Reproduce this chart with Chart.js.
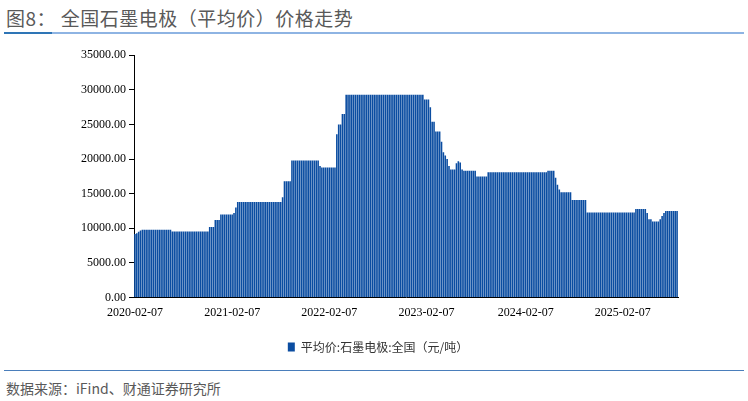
<!DOCTYPE html>
<html>
<head>
<meta charset="utf-8">
<script src="https://cdn.jsdelivr.net/npm/chart.js@4"></script>
<style>
body{margin:0;width:748px;height:401px;background:#fff;font-family:"Noto Sans CJK SC",sans-serif;position:relative;overflow:hidden}
#title{position:absolute;left:6px;top:4px;font-size:19px;color:#595959;letter-spacing:0.5px}
#tl{position:absolute;left:4px;top:32px;width:740px;height:2px;background:#8eb4e3}
#tl2{position:absolute;left:4px;top:32px;width:48px;height:2px;background:#2e75b6}
#fl{position:absolute;left:4px;top:370px;width:740px;height:1px;background:#4a7ebb}
#src{position:absolute;left:6px;top:378px;font-size:14px;color:#595959}
#wrap{position:absolute;left:0;top:45px;width:748px;height:318px}
</style>
</head>
<body>
<div id="title">图8：&nbsp;全国石墨电极（平均价）价格走势</div>
<div id="tl"></div><div id="tl2"></div>
<div id="wrap"><canvas id="myChart"></canvas></div>
<div id="fl"></div>
<div id="src">数据来源：iFind、财通证券研究所</div>
<script>
// weekly average price, yuan/ton
let prices = [
9200,9300,9500,9700,9800,9800,9800,9800,9800,9800,9800,9800,9800,9800,9800,9800,9800,9800,9800,9800,
9550,9550,9550,9550,9550,9550,9550,9550,9550,9550,9550,9550,9550,9550,9550,9550,9550,9550,9550,9550,
10200,10200,10200,11200,11200,11200,12000,12000,12000,12000,12000,12000,12000,12200,13000,
13800,13800,13800,13800,13800,13800,13800,13800,13800,13800,13800,13800,13800,13800,13800,13800,13800,13800,13800,13800,13800,13800,13800,13800,
14500,16800,16800,16800,16800,
19800,19800,19800,19800,19800,19800,19800,19800,19800,19800,19800,19800,19800,19800,19800,
19000,18800,18800,18800,18800,18800,18800,18800,18800,
23600,25000,25000,26500,26500,
29300,29300,29300,29300,29300,29300,29300,29300,29300,29300,29300,29300,29300,29300,29300,29300,29300,29300,29300,29300,29300,
29300,29300,29300,29300,29300,29300,29300,29300,29300,29300,29300,29300,29300,29300,29300,29300,29300,29300,29300,29300,29300,
28600,28600,28600,27500,25400,25400,24000,24000,24000,22500,21000,20500,20000,19000,18500,18500,18500,
19400,19700,19500,18500,18300,18300,18300,18300,18300,18300,18300,17500,17500,17500,17500,17500,17500,
18100,18100,18100,18100,18100,18100,18100,18100,18100,18100,18100,18100,18100,18100,18100,18100,
18100,18100,18100,18100,18100,18100,18100,18100,18100,18100,18100,18100,18100,18100,18100,18100,
18300,18300,18300,18300,17300,16300,15600,15200,15200,15200,15200,15200,15200,
14100,14100,14100,14100,14100,14100,14100,14100,
12300,12300,12300,12300,12300,12300,12300,12300,12300,12300,12300,12300,12300,
12300,12300,12300,12300,12300,12300,12300,12300,12300,12300,12300,12300,12300,
12800,12800,12800,12800,12800,12800,12200,11300,11300,11000,11000,11000,11000,11300,11800,12200,
12500,12500,12500,12500,12500,12500,12500
];
let tickLabels = ["2020-02-07","2021-02-07","2022-02-07","2023-02-07","2024-02-07","2025-02-07"];
let tickIdx = [0, 52, 104, 156, 209, 261];

let dates = [];
let d0 = new Date(Date.UTC(2020, 1, 7));
for (let i = 0; i < prices.length; i++) {
    let d = new Date(d0.getTime() + i * 7 * 86400000);
    dates.push(d.toISOString().slice(0, 10));
}

let ctx = document.getElementById("myChart").getContext('2d');
let myChart = new Chart(ctx, {
    type: 'bar',
    data: {
        labels: dates,
        datasets: [{
            label: '平均价:石墨电极:全国（元/吨）',
            data: prices,
            backgroundColor: '#0b4da1',
            borderColor: '#0b4da1',
            borderWidth: 0,
            categoryPercentage: 1.0,
            barPercentage: 0.85
        }]
    },
    options: {
        responsive: true,
        maintainAspectRatio: false,
        animation: false,
        layout: { padding: { left: 78, right: 70, top: 5, bottom: 0 } },
        plugins: {
            legend: {
                position: 'bottom',
                labels: { boxWidth: 7, boxHeight: 9, color: '#333', font: { size: 12, family: 'Noto Sans CJK SC' }, padding: 18 }
            },
            tooltip: { enabled: false }
        },
        scales: {
            x: {
                grid: {
                    drawOnChartArea: false, tickLength: 5,
                    color: c => tickIdx.indexOf(c.index) >= 0 ? '#000' : 'rgba(0,0,0,0)'
                },
                border: { color: '#000' },
                ticks: {
                    autoSkip: false, maxRotation: 0, color: '#000',
                    font: { size: 12, family: 'Liberation Serif' },
                    callback: function (v, i) {
                        let k = tickIdx.indexOf(i);
                        return k >= 0 ? tickLabels[k] : null;
                    }
                }
            },
            y: {
                min: 0, max: 35000,
                grid: { drawOnChartArea: false, color: '#000', tickLength: 5 },
                border: { color: '#000' },
                ticks: {
                    stepSize: 5000, color: '#000',
                    font: { size: 12, family: 'Liberation Serif' },
                    callback: v => v.toFixed(2)
                }
            }
        }
    }
});
</script>
</body>
</html>
